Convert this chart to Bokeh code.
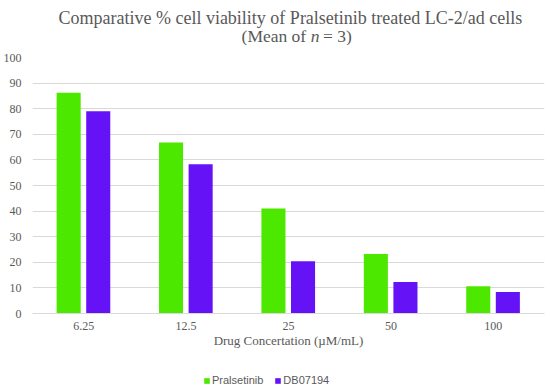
from bokeh.plotting import figure
from bokeh.layouts import column
from bokeh.models import ColumnDataSource, FactorRange, Range1d, Legend, LegendItem, FixedTicker
from bokeh.core.properties import value
from bokeh.transform import dodge
from bokeh.embed import file_html
from bokeh.resources import INLINE

concentrations = ["6.25", "12.5", "25", "50", "100"]
pralsetinib = [86.2, 66.8, 41.0, 23.2, 10.6]
db07194 = [79.0, 58.3, 20.4, 12.3, 8.4]
y_ticks = [0, 10, 20, 30, 40, 50, 60, 70, 80, 90, 100]
series_names = ["Pralsetinib", "DB07194"]

GREEN = "#4de800"
PURPLE = "#6612f7"
TEXT = "#595959"
SERIF = "Liberation Serif"

W = 550
HEAD_H = 45
MAIN_H = 310
FOOT_H = 389 - HEAD_H - MAIN_H


def bare(fig):
    fig.axis.visible = False
    fig.grid.visible = False
    fig.outline_line_color = None


# ---- header (title), drawn in pixel coordinates of the header canvas ----
head = figure(width=W, height=HEAD_H, x_range=Range1d(0, W), y_range=Range1d(HEAD_H, 0),
              output_backend="svg", toolbar_location=None, min_border=0)
bare(head)

def head_text(x, y, txt, align, size, style="normal"):
    head.text(x=[x], y=[y], text=[txt], text_align=align, text_baseline="alphabetic",
              text_font=value(SERIF), text_font_size=value(size), text_font_style=style,
              text_color=TEXT)

head_text(277, 17, "Comparative % cell viability of Pralsetinib treated LC-2/ad cells", "center", "18px")
head_text(294, 35, "(Mean of", "right", "17.5px")
head_text(299, 35, "n", "left", "17.5px", "italic")
head_text(312, 35, "= 3)", "left", "17.5px")

# ---- main chart ----
src = ColumnDataSource(dict(conc=concentrations, pral=pralsetinib, db=db07194))

p = figure(width=W, height=MAIN_H, x_range=FactorRange(*concentrations, range_padding=0),
           y_range=Range1d(0, 100), output_backend="svg", toolbar_location=None,
           min_border_left=31, min_border_right=6, min_border_top=57 - HEAD_H,
           min_border_bottom=MAIN_H - 256 - (57 - HEAD_H))
p.outline_line_color = None

p.vbar(x=dodge("conc", -0.147, range=p.x_range), top="pral", width=0.235, source=src,
       fill_color=GREEN, line_color=None)
p.vbar(x=dodge("conc", 0.142, range=p.x_range), top="db", width=0.235, source=src,
       fill_color=PURPLE, line_color=None)

p.xgrid.grid_line_color = None
p.ygrid.grid_line_color = "#d9d9d9"
p.ygrid.grid_line_width = 1
p.yaxis.ticker = FixedTicker(ticks=y_ticks)

for ax in (p.xaxis[0], p.yaxis[0]):
    ax.major_tick_line_color = None
    ax.minor_tick_line_color = None
    ax.major_tick_out = 0
    ax.minor_tick_out = 0
    ax.major_label_text_font = SERIF
    ax.major_label_text_font_size = "12px"
    ax.major_label_text_color = TEXT
p.yaxis.axis_line_color = None
p.yaxis.major_label_standoff = 11
p.xaxis.axis_line_color = "#d9d9d9"
p.xaxis.major_label_standoff = 8
p.xaxis.axis_label = "Drug Concertation (µM/mL)"
p.xaxis.axis_label_text_font = SERIF
p.xaxis.axis_label_text_font_size = "13px"
p.xaxis.axis_label_text_font_style = "normal"
p.xaxis.axis_label_text_color = TEXT
p.xaxis.axis_label_standoff = 0

# ---- footer (legend); its key renderers are hidden, only their legend keys show ----
foot = figure(width=W, height=FOOT_H, x_range=FactorRange(*concentrations, range_padding=0),
              y_range=Range1d(0, 100), output_backend="svg", toolbar_location=None, min_border=0)
bare(foot)
k1 = foot.vbar(x="conc", top="pral", width=0.2, source=src, fill_color=GREEN, line_color=None,
               visible=False)
k2 = foot.vbar(x="conc", top="db", width=0.2, source=src, fill_color=PURPLE, line_color=None,
               visible=False)
legend = Legend(items=[LegendItem(label=series_names[0], renderers=[k1]),
                       LegendItem(label=series_names[1], renderers=[k2])],
                orientation="horizontal", location=(171, 3),
                glyph_width=7, glyph_height=7, label_height=10, label_standoff=2,
                spacing=11, padding=0, margin=0, inactive_fill_alpha=0,
                label_text_font="Liberation Sans", label_text_font_size="11px",
                label_text_color=TEXT, border_line_color=None, background_fill_alpha=0)
foot.add_layout(legend)

layout = column(head, p, foot, spacing=0)
open("out.html", "w").write(file_html(layout, INLINE))
